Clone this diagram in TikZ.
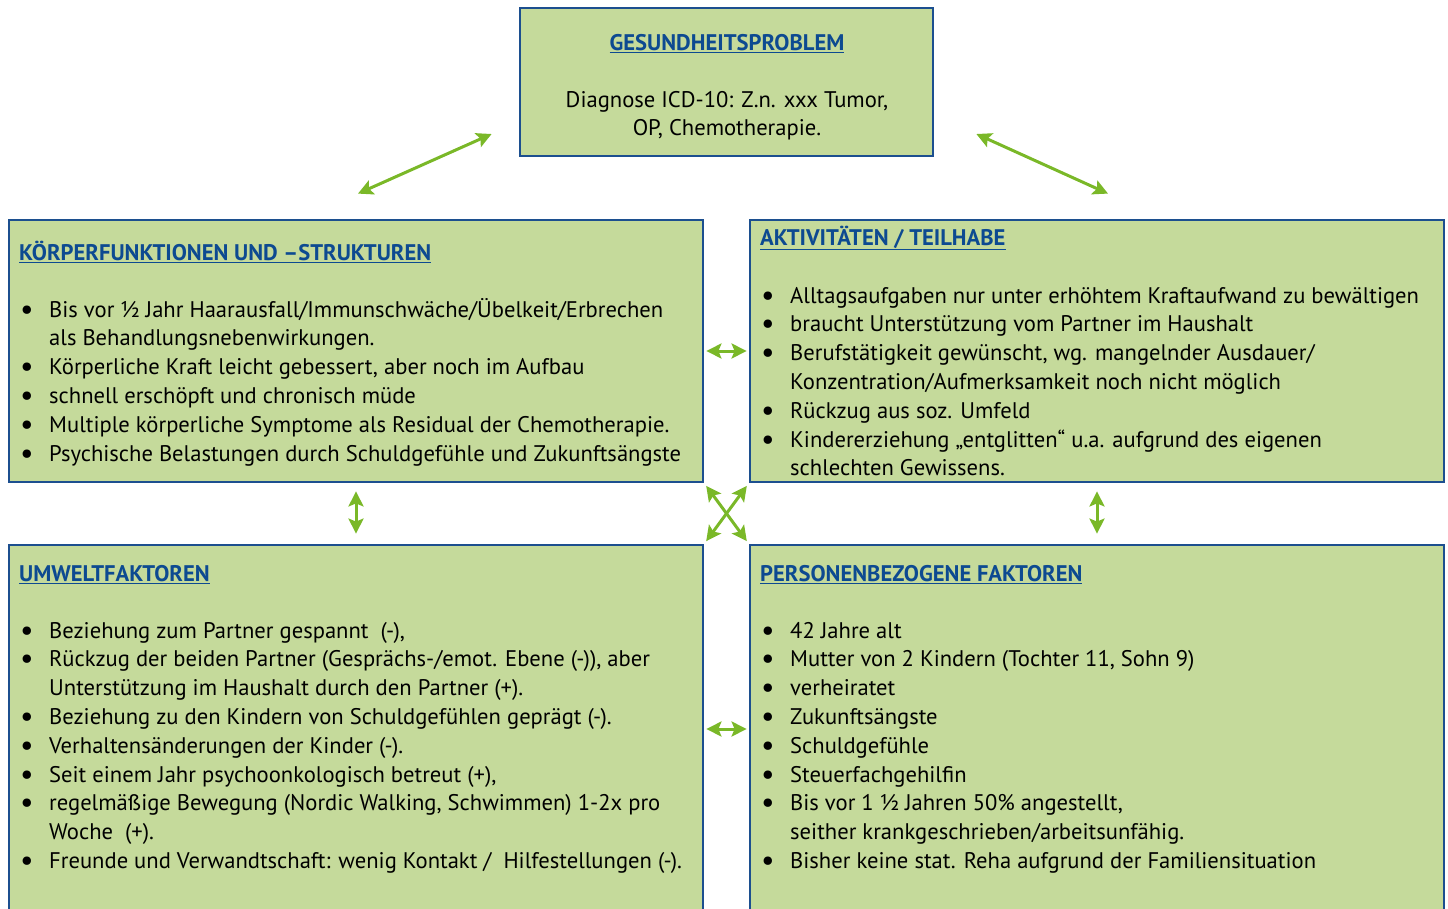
\documentclass[tikz,border=0pt]{standalone}
\usepackage{fontspec}
\setmainfont{PT Sans}
\usetikzlibrary{positioning,arrows.meta}

\definecolor{boxgreen}{HTML}{C5DA9B}
\definecolor{boxblue}{HTML}{1C4F8F}
\definecolor{headblue}{HTML}{0D4A91}
\definecolor{arrowgreen}{HTML}{7AB828}

\newcommand{\itm}{\makebox[30pt][l]{\hspace{1pt}\raisebox{-2pt}{\fontsize{30}{30}\selectfont•}}}
\newcommand{\cnt}{\hspace*{30pt}}
\newcommand{\hd}[1]{\textcolor{headblue}{\underline{\textbf{#1}}}}
\newcommand{\lst}[1]{\parbox[t]{690pt}{#1}}

\begin{document}
\begin{tikzpicture}[x=1pt,y=-1pt,
    box/.style={draw=boxblue, line width=2.8pt, fill=boxgreen, inner sep=0pt,
      minimum width=694pt, minimum height=262pt},
    head/.style={anchor=base west, inner sep=0pt, font=\fontsize{22.6}{28.8}\selectfont},
    txt/.style={anchor=base west, inner sep=0pt, font=\fontsize{22.6}{28.8}\selectfont},
    link/.style={draw=arrowgreen, line width=3pt,
      {Stealth[length=15pt,width=15pt,inset=3pt]}-{Stealth[length=15pt,width=15pt,inset=3pt]}}]
  \useasboundingbox (0,0) rectangle (1448,908);
  \clip (0,0) rectangle (1448,908);

  % Kaesten
  \node[box, minimum width=413pt, minimum height=148pt] (gp) at (726.5,82) {};
  \node[box] (kf) at (356,351) {};
  \node[box] (at) at (1097,351) {};
  \node[box, minimum height=415pt] (uf) at (356,752.5) {};
  \node[box, minimum height=415pt] (pf) at (1097,752.5) {};

  % Gesundheitsproblem
  \node[head, anchor=base] (gp-head) at (727,50) {\hd{GESUNDHEITSPROBLEM}};
  \node[txt, anchor=base] (gp-list) at (727,107)
    {\parbox[t]{400pt}{\centering Diagnose ICD-10: Z.n. xxx Tumor,\\OP, Chemotherapie.}};

  % Koerperfunktionen
  \node[head] (kf-head) at (19,260) {\hd{KÖRPERFUNKTIONEN UND –STRUKTUREN}};
  \node[txt] (kf-list) at (19,317) {\lst{%
    \itm Bis vor ½ Jahr Haarausfall/Immunschwäche/Übelkeit/Erbrechen\\
    \cnt als Behandlungsnebenwirkungen.\\
    \itm Körperliche Kraft leicht gebessert, aber noch im Aufbau\\
    \itm schnell erschöpft und chronisch müde\\
    \itm Multiple körperliche Symptome als Residual der Chemotherapie.\\
    \itm Psychische Belastungen durch Schuldgefühle und Zukunftsängste}};

  % Aktivitaeten
  \node[head] (at-head) at (760,245) {\hd{AKTIVITÄTEN / TEILHABE}};
  \node[txt] (at-list) at (760,303) {\lst{%
    \itm Alltagsaufgaben nur unter erhöhtem Kraftaufwand zu bewältigen\\
    \itm braucht Unterstützung vom Partner im Haushalt\\
    \itm Berufstätigkeit gewünscht, wg. mangelnder Ausdauer/\\
    \cnt Konzentration/Aufmerksamkeit noch nicht möglich\\
    \itm Rückzug aus soz. Umfeld\\
    \itm Kindererziehung „entglitten“ u.a. aufgrund des eigenen\\
    \cnt schlechten Gewissens.}};

  % Umweltfaktoren
  \node[head] (uf-head) at (19,581) {\hd{UMWELTFAKTOREN}};
  \node[txt] (uf-list) at (19,638) {\lst{%
    \itm Beziehung zum Partner gespannt\ \ (-),\\
    \itm Rückzug der beiden Partner (Gesprächs-/emot. Ebene (-)), aber\\
    \cnt Unterstützung im Haushalt durch den Partner (+).\\
    \itm Beziehung zu den Kindern von Schuldgefühlen geprägt (-).\\
    \itm Verhaltensänderungen der Kinder (-).\\
    \itm Seit einem Jahr psychoonkologisch betreut (+),\\
    \itm regelmäßige Bewegung (Nordic Walking, Schwimmen) 1-2x pro\\
    \cnt Woche\ \ (+).\\
    \itm Freunde und Verwandtschaft: wenig Kontakt /\ \ Hilfestellungen (-).}};

  % Personenbezogene Faktoren
  \node[head] (pf-head) at (760,581) {\hd{PERSONENBEZOGENE FAKTOREN}};
  \node[txt] (pf-list) at (760,638) {\lst{%
    \itm 42 Jahre alt\\
    \itm Mutter von 2 Kindern (Tochter 11, Sohn 9)\\
    \itm verheiratet\\
    \itm Zukunftsängste\\
    \itm Schuldgefühle\\
    \itm Steuerfachgehilfin\\
    \itm Bis vor 1 ½ Jahren 50\% angestellt,\\
    \cnt seither krankgeschrieben/arbeitsunfähig.\\
    \itm Bisher keine stat. Reha aufgrund der Familiensituation}};

  % Pfeile
  \draw[link] ([xshift=2pt,yshift=25pt]kf.north) -- ([xshift=-27pt,yshift=-52pt]gp.west);
  \draw[link] ([xshift=42pt,yshift=-52pt]gp.east) -- ([xshift=11pt,yshift=25pt]at.north);
  \draw[link, shorten <=2pt, shorten >=2pt] (kf.east) -- (at.west);
  \draw[link, shorten <=8pt, shorten >=10pt] (kf.south) -- (uf.north);
  \draw[link, shorten <=8pt, shorten >=10pt] (at.south) -- (pf.north);
  \draw[link, shorten <=3pt, shorten >=3pt] (kf.south east) -- (pf.north west);
  \draw[link, shorten <=3pt, shorten >=3pt] (at.south west) -- (uf.north east);
  \draw[link, shorten <=2pt, shorten >=2pt] ([yshift=23.5pt]uf.east) -- ([yshift=23.5pt]pf.west);
\end{tikzpicture}
\end{document}
